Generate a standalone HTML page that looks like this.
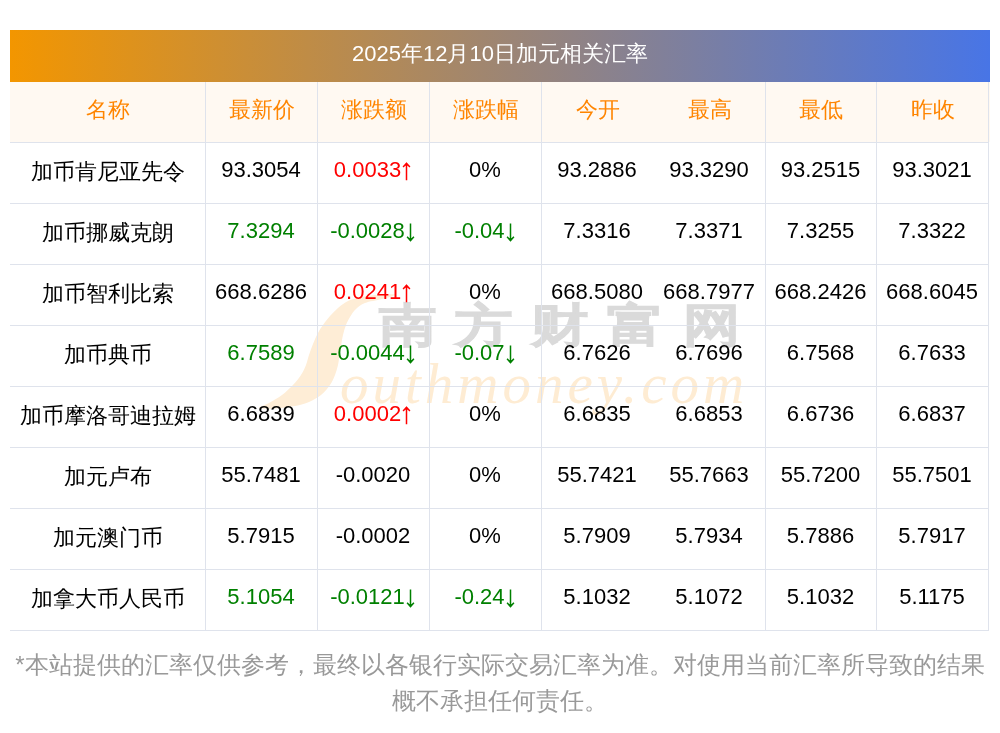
<!DOCTYPE html>
<html><head><meta charset="utf-8"><title>加元相关汇率</title>
<style>
*{margin:0;padding:0;box-sizing:border-box}
html,body{width:1000px;height:733px;background:#fff;overflow:hidden}
body{font-family:"Liberation Sans",sans-serif;position:relative;color:#000}
.wrap{position:absolute;left:0;top:0;width:1000px;height:733px;will-change:transform}
.title{position:absolute;left:10px;top:30px;width:980px;height:52px;background:linear-gradient(90deg,#f39600,#4875e6);color:#fff;font-size:22px;line-height:52px;text-align:center}
.tt{position:relative;top:-2px}
.t2{position:relative;top:-0.5px;display:inline-block;transform:scaleY(1.0);transform-origin:50% 75%}
.hbg{position:absolute;left:10px;top:82px;width:980px;height:60px;background:#fff9f2}
.vl{position:absolute;width:1px;background:#dfe3ec}
.hl{position:absolute;height:1px;background:#dfe3ec}
.c{position:absolute;text-align:center;font-size:22px;height:60px;line-height:60px;white-space:nowrap}
.h{color:#ff8500}
.d{transform:scaleY(1.0);transform-origin:50% 37.62px;font-size:22px}
.r{color:#ff0000}
.g{color:#008000}
.ar{vertical-align:-4px;margin-left:0px}
.note{position:absolute;left:0;top:647px;width:1000px;text-align:center;color:#999999;font-size:24px;line-height:36px}
.wm{position:absolute;left:0;top:0;width:1000px;height:733px}
.wmc{position:absolute;left:378.5px;top:302px;font-size:46px;font-weight:bold;color:#dadada;-webkit-text-stroke:1.0px #dadada;letter-spacing:14.8px;transform:scaleX(1.25);transform-origin:0 0;white-space:nowrap;line-height:1}
</style></head><body>
<div class="wrap">
<div class="hbg"></div>
<svg class="wm" width="1000" height="733" viewBox="0 0 1000 733"><path d="M 396.0 294.5 C 394.8 293.8 381.0 294.5 375.0 295.0 C 369.0 295.5 364.5 296.5 360.0 297.5 C 355.5 298.5 351.7 299.2 348.0 301.0 C 344.3 302.8 341.0 305.5 338.0 308.0 C 335.0 310.5 332.5 313.2 330.0 316.0 C 327.5 318.8 325.0 322.2 323.0 325.0 C 321.0 327.8 319.7 329.8 318.0 333.0 C 316.3 336.2 314.5 340.3 313.0 344.0 C 311.5 347.7 310.2 351.5 309.0 355.0 C 307.8 358.5 307.3 361.7 306.0 365.0 C 304.7 368.3 303.2 371.7 301.0 375.0 C 298.8 378.3 296.2 381.7 293.0 385.0 C 289.8 388.3 286.0 392.0 282.0 395.0 C 278.0 398.0 272.8 400.8 269.0 403.0 C 265.2 405.2 258.0 407.1 259.0 408.0 C 260.0 408.9 269.0 408.8 275.0 408.5 C 281.0 408.2 289.3 407.1 295.0 406.0 C 300.7 404.9 304.7 403.8 309.0 402.0 C 313.3 400.2 317.5 397.8 321.0 395.0 C 324.5 392.2 327.7 388.3 330.0 385.0 C 332.3 381.7 333.7 378.3 335.0 375.0 C 336.3 371.7 337.2 368.3 338.0 365.0 C 338.8 361.7 339.0 358.2 339.5 355.0 C 340.0 351.8 340.4 349.3 341.0 346.0 C 341.6 342.7 342.2 338.5 343.0 335.0 C 343.8 331.5 344.8 328.0 346.0 325.0 C 347.2 322.0 348.3 319.7 350.0 317.0 C 351.7 314.3 353.5 311.3 356.0 309.0 C 358.5 306.7 360.7 304.7 365.0 303.0 C 369.3 301.3 376.8 300.4 382.0 299.0 C 387.2 297.6 397.2 295.2 396.0 294.5 Z" fill="#feedd6"/><text x="340" y="402.5" font-family="Liberation Serif" font-style="italic" font-size="57" letter-spacing="4" fill="#feecd3">outhmoney.com</text></svg>
<div class="wmc">南方财富网</div>
<div class="title"><span class="tt"><span class="t2">2025</span>年<span class="t2">12</span>月<span class="t2">10</span>日加元相关汇率</span></div>
<div class="vl" style="left:205px;top:82px;height:549px"></div>
<div class="vl" style="left:317px;top:82px;height:549px"></div>
<div class="vl" style="left:429px;top:82px;height:549px"></div>
<div class="vl" style="left:541px;top:82px;height:549px"></div>
<div class="vl" style="left:765px;top:82px;height:549px"></div>
<div class="vl" style="left:876px;top:82px;height:549px"></div>
<div class="vl" style="left:988px;top:82px;height:549px"></div>
<div class="hl" style="left:10px;top:142px;width:979px"></div>
<div class="hl" style="left:10px;top:203px;width:979px"></div>
<div class="hl" style="left:10px;top:264px;width:979px"></div>
<div class="hl" style="left:10px;top:325px;width:979px"></div>
<div class="hl" style="left:10px;top:386px;width:979px"></div>
<div class="hl" style="left:10px;top:447px;width:979px"></div>
<div class="hl" style="left:10px;top:508px;width:979px"></div>
<div class="hl" style="left:10px;top:569px;width:979px"></div>
<div class="hl" style="left:10px;top:630px;width:979px"></div>
<div class="c h" style="left:10px;width:195px;top:80px">名称</div>
<div class="c h" style="left:206px;width:111px;top:80px">最新价</div>
<div class="c h" style="left:318px;width:111px;top:80px">涨跌额</div>
<div class="c h" style="left:430px;width:111px;top:80px">涨跌幅</div>
<div class="c h" style="left:542px;width:111px;top:80px">今开</div>
<div class="c h" style="left:654px;width:111px;top:80px">最高</div>
<div class="c h" style="left:766px;width:110px;top:80px">最低</div>
<div class="c h" style="left:877px;width:111px;top:80px">昨收</div>
<div class="c" style="left:10px;width:195px;top:141.5px">加币肯尼亚先令</div>
<div class="c d" style="left:205.5px;width:111px;top:140px">93.3054</div>
<div class="c d r" style="left:317.5px;width:111px;top:140px">0.0033<svg class="ar" width="11" height="19" viewBox="0 0 11 19"><path d="M5.5 2V18.3M2.1 5.1L5.5 1.3L8.9 5.1" stroke="currentColor" stroke-width="1.5" fill="none"/><path d="M5.5 0.6L7.3 3.6H3.7Z" fill="currentColor"/></svg></div>
<div class="c d" style="left:429.5px;width:111px;top:140px">0%</div>
<div class="c d" style="left:541.5px;width:111px;top:140px">93.2886</div>
<div class="c d" style="left:653.5px;width:111px;top:140px">93.3290</div>
<div class="c d" style="left:765.5px;width:110px;top:140px">93.2515</div>
<div class="c d" style="left:876.5px;width:111px;top:140px">93.3021</div>
<div class="c" style="left:10px;width:195px;top:202.5px">加币挪威克朗</div>
<div class="c d g" style="left:205.5px;width:111px;top:201px">7.3294</div>
<div class="c d g" style="left:317.5px;width:111px;top:201px">-0.0028<svg class="ar" width="11" height="19" viewBox="0 0 11 19"><path d="M5.5 0.6V17M2.1 13.8L5.5 17.6L8.9 13.8" stroke="currentColor" stroke-width="1.5" fill="none"/><path d="M5.5 18.3L7.3 15.3H3.7Z" fill="currentColor"/></svg></div>
<div class="c d g" style="left:429.5px;width:111px;top:201px">-0.04<svg class="ar" width="11" height="19" viewBox="0 0 11 19"><path d="M5.5 0.6V17M2.1 13.8L5.5 17.6L8.9 13.8" stroke="currentColor" stroke-width="1.5" fill="none"/><path d="M5.5 18.3L7.3 15.3H3.7Z" fill="currentColor"/></svg></div>
<div class="c d" style="left:541.5px;width:111px;top:201px">7.3316</div>
<div class="c d" style="left:653.5px;width:111px;top:201px">7.3371</div>
<div class="c d" style="left:765.5px;width:110px;top:201px">7.3255</div>
<div class="c d" style="left:876.5px;width:111px;top:201px">7.3322</div>
<div class="c" style="left:10px;width:195px;top:263.5px">加币智利比索</div>
<div class="c d" style="left:205.5px;width:111px;top:262px">668.6286</div>
<div class="c d r" style="left:317.5px;width:111px;top:262px">0.0241<svg class="ar" width="11" height="19" viewBox="0 0 11 19"><path d="M5.5 2V18.3M2.1 5.1L5.5 1.3L8.9 5.1" stroke="currentColor" stroke-width="1.5" fill="none"/><path d="M5.5 0.6L7.3 3.6H3.7Z" fill="currentColor"/></svg></div>
<div class="c d" style="left:429.5px;width:111px;top:262px">0%</div>
<div class="c d" style="left:541.5px;width:111px;top:262px">668.5080</div>
<div class="c d" style="left:653.5px;width:111px;top:262px">668.7977</div>
<div class="c d" style="left:765.5px;width:110px;top:262px">668.2426</div>
<div class="c d" style="left:876.5px;width:111px;top:262px">668.6045</div>
<div class="c" style="left:10px;width:195px;top:324.5px">加币典币</div>
<div class="c d g" style="left:205.5px;width:111px;top:323px">6.7589</div>
<div class="c d g" style="left:317.5px;width:111px;top:323px">-0.0044<svg class="ar" width="11" height="19" viewBox="0 0 11 19"><path d="M5.5 0.6V17M2.1 13.8L5.5 17.6L8.9 13.8" stroke="currentColor" stroke-width="1.5" fill="none"/><path d="M5.5 18.3L7.3 15.3H3.7Z" fill="currentColor"/></svg></div>
<div class="c d g" style="left:429.5px;width:111px;top:323px">-0.07<svg class="ar" width="11" height="19" viewBox="0 0 11 19"><path d="M5.5 0.6V17M2.1 13.8L5.5 17.6L8.9 13.8" stroke="currentColor" stroke-width="1.5" fill="none"/><path d="M5.5 18.3L7.3 15.3H3.7Z" fill="currentColor"/></svg></div>
<div class="c d" style="left:541.5px;width:111px;top:323px">6.7626</div>
<div class="c d" style="left:653.5px;width:111px;top:323px">6.7696</div>
<div class="c d" style="left:765.5px;width:110px;top:323px">6.7568</div>
<div class="c d" style="left:876.5px;width:111px;top:323px">6.7633</div>
<div class="c" style="left:10px;width:195px;top:385.5px">加币摩洛哥迪拉姆</div>
<div class="c d" style="left:205.5px;width:111px;top:384px">6.6839</div>
<div class="c d r" style="left:317.5px;width:111px;top:384px">0.0002<svg class="ar" width="11" height="19" viewBox="0 0 11 19"><path d="M5.5 2V18.3M2.1 5.1L5.5 1.3L8.9 5.1" stroke="currentColor" stroke-width="1.5" fill="none"/><path d="M5.5 0.6L7.3 3.6H3.7Z" fill="currentColor"/></svg></div>
<div class="c d" style="left:429.5px;width:111px;top:384px">0%</div>
<div class="c d" style="left:541.5px;width:111px;top:384px">6.6835</div>
<div class="c d" style="left:653.5px;width:111px;top:384px">6.6853</div>
<div class="c d" style="left:765.5px;width:110px;top:384px">6.6736</div>
<div class="c d" style="left:876.5px;width:111px;top:384px">6.6837</div>
<div class="c" style="left:10px;width:195px;top:446.5px">加元卢布</div>
<div class="c d" style="left:205.5px;width:111px;top:445px">55.7481</div>
<div class="c d" style="left:317.5px;width:111px;top:445px">-0.0020</div>
<div class="c d" style="left:429.5px;width:111px;top:445px">0%</div>
<div class="c d" style="left:541.5px;width:111px;top:445px">55.7421</div>
<div class="c d" style="left:653.5px;width:111px;top:445px">55.7663</div>
<div class="c d" style="left:765.5px;width:110px;top:445px">55.7200</div>
<div class="c d" style="left:876.5px;width:111px;top:445px">55.7501</div>
<div class="c" style="left:10px;width:195px;top:507.5px">加元澳门币</div>
<div class="c d" style="left:205.5px;width:111px;top:506px">5.7915</div>
<div class="c d" style="left:317.5px;width:111px;top:506px">-0.0002</div>
<div class="c d" style="left:429.5px;width:111px;top:506px">0%</div>
<div class="c d" style="left:541.5px;width:111px;top:506px">5.7909</div>
<div class="c d" style="left:653.5px;width:111px;top:506px">5.7934</div>
<div class="c d" style="left:765.5px;width:110px;top:506px">5.7886</div>
<div class="c d" style="left:876.5px;width:111px;top:506px">5.7917</div>
<div class="c" style="left:10px;width:195px;top:568.5px">加拿大币人民币</div>
<div class="c d g" style="left:205.5px;width:111px;top:567px">5.1054</div>
<div class="c d g" style="left:317.5px;width:111px;top:567px">-0.0121<svg class="ar" width="11" height="19" viewBox="0 0 11 19"><path d="M5.5 0.6V17M2.1 13.8L5.5 17.6L8.9 13.8" stroke="currentColor" stroke-width="1.5" fill="none"/><path d="M5.5 18.3L7.3 15.3H3.7Z" fill="currentColor"/></svg></div>
<div class="c d g" style="left:429.5px;width:111px;top:567px">-0.24<svg class="ar" width="11" height="19" viewBox="0 0 11 19"><path d="M5.5 0.6V17M2.1 13.8L5.5 17.6L8.9 13.8" stroke="currentColor" stroke-width="1.5" fill="none"/><path d="M5.5 18.3L7.3 15.3H3.7Z" fill="currentColor"/></svg></div>
<div class="c d" style="left:541.5px;width:111px;top:567px">5.1032</div>
<div class="c d" style="left:653.5px;width:111px;top:567px">5.1072</div>
<div class="c d" style="left:765.5px;width:110px;top:567px">5.1032</div>
<div class="c d" style="left:876.5px;width:111px;top:567px">5.1175</div>
<div class="note">*本站提供的汇率仅供参考，最终以各银行实际交易汇率为准。对使用当前汇率所导致的结果<br>概不承担任何责任。</div>
</div>
</body></html>
